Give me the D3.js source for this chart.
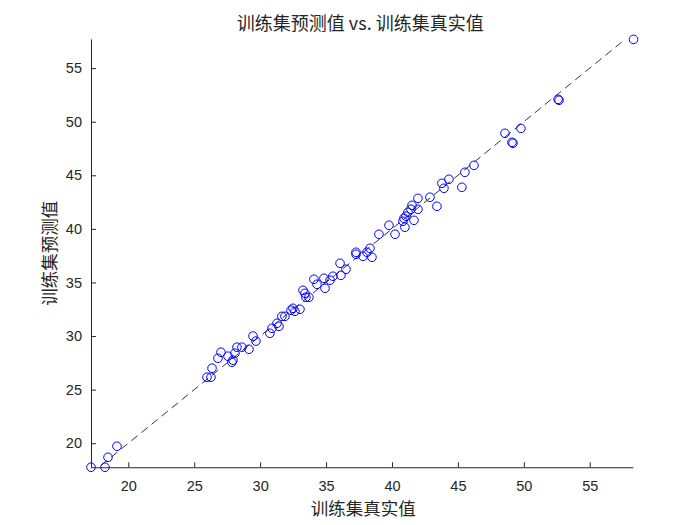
<!DOCTYPE html>
<html>
<head>
<meta charset="utf-8">
<script src="https://cdn.jsdelivr.net/npm/d3@7"></script>
<style>
  body { margin: 0; background: #fff; }
  svg { display: block; }
</style>
</head>
<body>
<svg id="chart" width="700" height="525"></svg>
<script>
// True values (x) and predicted values (y) for the training set
const trueValues = [
  17.17, 18.23, 18.46, 19.14,
  25.97, 26.27, 26.35, 26.80, 27.03, 27.56, 27.86, 27.94, 28.09, 28.24, 28.62, 29.15, 29.46, 29.68,
  30.74, 30.90, 31.28, 31.43, 31.65, 31.88, 32.34, 32.49, 32.64, 33.02, 33.25, 33.40, 33.47, 33.70,
  34.08, 34.31, 34.84, 34.92, 35.30, 35.52, 36.06, 36.13, 36.51,
  37.27, 37.27, 37.80, 38.10, 38.33, 38.48, 39.01, 39.77, 40.23,
  40.83, 40.91, 40.98, 41.06, 41.21, 41.44, 41.52, 41.67, 41.97, 41.97, 42.88, 43.41, 43.79, 43.94,
  44.32, 45.30, 45.53, 46.22,
  48.57, 49.10, 49.18, 49.78, 52.60, 52.67, 58.32
];
const predictedValues = [
  17.76, 17.76, 18.69, 19.72,
  26.16, 26.16, 27.00, 27.93, 28.49, 28.12, 27.56, 27.75, 28.40, 28.96, 28.96, 28.77, 30.00, 29.53,
  30.26, 30.73, 31.19, 30.91, 31.84, 31.84, 32.41, 32.59, 32.31, 32.50, 34.27, 33.99, 33.62, 33.62,
  35.30, 34.83, 35.39, 34.46, 35.21, 35.58, 36.79, 35.67, 36.23,
  37.82, 37.63, 37.44, 37.82, 38.19, 37.35, 39.50, 40.34, 39.50,
  40.71, 40.99, 40.15, 41.18, 41.55, 41.83, 42.20, 40.80, 42.85, 41.83, 42.95, 42.11, 44.25, 43.79,
  44.63, 43.88, 45.28, 45.93,
  48.92, 48.08, 47.99, 49.38, 52.09, 52.00, 57.68
];
const xTicks = [20, 25, 30, 35, 40, 45, 50, 55];
const yTicks = [20, 25, 30, 35, 40, 45, 50, 55];
const titleText = "训练集预测值 vs. 训练集真实值";
const xLabelText = "训练集真实值";
const yLabelText = "训练集预测值";

const W = 700, H = 525;
const pLeft = 91, pRight = 633.5, pTop = 39.4, pBottom = 467.25;
const axisColor = "#262626";

const svg = d3.select("#chart");

const x = d3.scaleLinear().domain(d3.extent(trueValues)).range([pLeft, pRight]);
const y = d3.scaleLinear().domain(d3.extent(predictedValues)).range([pBottom, pTop]);

// clip
svg.append("defs").append("clipPath").attr("id", "plotclip")
  .append("rect").attr("x", pLeft).attr("y", pTop)
  .attr("width", pRight - pLeft).attr("height", pBottom - pTop);

// y = x reference line
const lo = d3.min(trueValues), hi = d3.max(trueValues);
svg.append("g").attr("clip-path", "url(#plotclip)")
  .append("line")
  .attr("x1", x(lo)).attr("y1", y(lo))
  .attr("x2", x(hi)).attr("y2", y(hi))
  .attr("stroke", "#000").attr("stroke-width", 0.8)
  .attr("stroke-dasharray", "8,5");

// points
const pts = trueValues.map((v, i) => [v, predictedValues[i]]);
svg.append("g").selectAll("circle").data(pts).join("circle")
  .attr("cx", d => x(d[0])).attr("cy", d => y(d[1])).attr("r", 4.3)
  .attr("fill", "none").attr("stroke", "#0000ff").attr("stroke-width", 1);

// axes (ticks inward)
const xAxis = d3.axisBottom(x).tickValues(xTicks).tickSizeInner(-5).tickSizeOuter(0).tickPadding(13);
const gx = svg.append("g").attr("transform", `translate(0,${pBottom})`).call(xAxis);
const yAxis = d3.axisLeft(y).tickValues(yTicks).tickSizeInner(-5).tickSizeOuter(0).tickPadding(9);
const gy = svg.append("g").attr("transform", `translate(${pLeft},0)`).call(yAxis);

[gx, gy].forEach(g => {
  g.select(".domain").attr("stroke", axisColor).attr("stroke-width", 1);
  g.selectAll(".tick line").attr("stroke", axisColor);
  g.selectAll(".tick text").attr("fill", axisColor)
    .style("font-family", "'Liberation Sans', Arial, sans-serif").style("font-size", "14.5px");
});
gx.select(".domain").attr("d", `M${pLeft},0.5H${pRight}`);
gy.select(".domain").attr("d", `M0.5,${pBottom}V${pTop}`);

const cjk = "'Noto Sans CJK SC', 'Noto Sans', sans-serif";
svg.append("text").attr("x", (pLeft + pRight) / 2 - 2).attr("y", 30)
  .attr("text-anchor", "middle").attr("fill", "#262626")
  .style("font-family", cjk).style("font-size", "18px").text(titleText);

svg.append("text").attr("x", (pLeft + pRight) / 2 + 1).attr("y", 515)
  .attr("text-anchor", "middle").attr("fill", "#262626")
  .style("font-family", cjk).style("font-size", "17.5px").text(xLabelText);

svg.append("text")
  .attr("transform", `translate(56,${(pTop + pBottom) / 2}) rotate(-90)`)
  .attr("text-anchor", "middle").attr("fill", "#262626")
  .style("font-family", cjk).style("font-size", "17.5px").text(yLabelText);
</script>
</body>
</html>
